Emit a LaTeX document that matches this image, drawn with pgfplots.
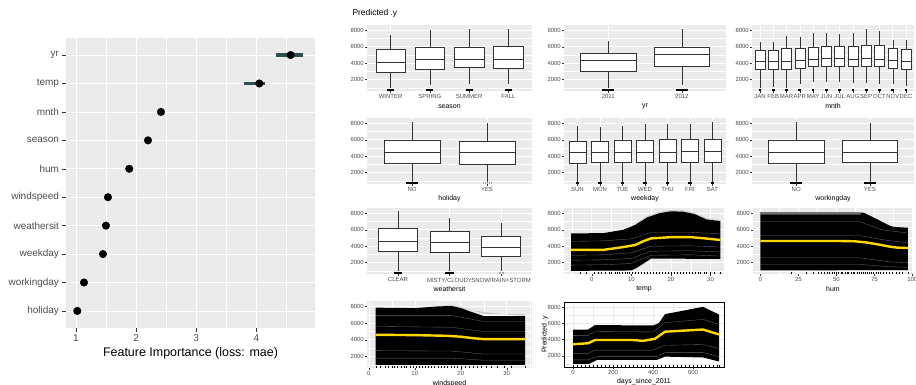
\documentclass[border=0pt]{standalone}
\usepackage{fontspec}
\setmainfont{Liberation Sans}
\usepackage{pgfplots}
\pgfplotsset{compat=1.18}
\definecolor{ggbg}{HTML}{EBEBEB}
\definecolor{ggtick}{HTML}{4D4D4D}
\definecolor{ggaxis}{HTML}{333333}
\definecolor{dslate}{HTML}{2F4F4F}
\definecolor{pdyellow}{HTML}{FFD700}
\pgfplotsset{
  gg/.style={scale only axis, anchor=south west,
    axis background/.style={fill=ggbg}, axis line style={draw=none},
    tick align=outside, major tick length=2bp, minor tick length=0pt,
    tick style={color=ggaxis, line width=0.4pt},
    xtick pos=left, ytick pos=left, grid=both,
    major grid style={white, line width=0.6pt},
    minor grid style={white, line width=0.3pt},
    tick label style={font=\fontsize{6}{7}\selectfont, color=ggtick},
    label style={font=\fontsize{7}{8}\selectfont},
    xlabel style={at={(axis description cs:0.5,-0.23)}, anchor=center},
    /pgf/number format/assume math mode=true, /pgf/number format/1000 sep={},
    ymin=620, ymax=8650, ytick={2000,4000,6000,8000}, minor ytick={1000,3000,5000,7000},
    yticklabel style={inner sep=1bp}, xticklabel style={inner sep=1.5bp}},
  bxs/.style={ggaxis, line width=0.5pt},
  rug/.style={black, line width=2.6bp},
  crug/.style={only marks, mark=|, mark size=1.2bp, mark options={black, line width=0.3pt}},
  band/.style={fill=black, draw=none},
  edge/.style={fill=gray!55, draw=none, opacity=0.6},
  streak/.style={gray!70, line width=0.35pt, opacity=0.6},
  pd/.style={pdyellow, line width=2.4bp},
}
% \bxp{left}{centre}{right}{lower whisker}{lower quartile}{median}{upper quartile}{upper whisker}
\newcommand{\bxp}[8]{%
  \addplot[bxs] coordinates {(#2,#4)(#2,#5)};
  \addplot[bxs] coordinates {(#2,#7)(#2,#8)};
  \addplot[bxs, fill=white] coordinates {(#1,#5)(#3,#5)(#3,#7)(#1,#7)} -- cycle;
  \addplot[bxs] coordinates {(#1,#6)(#3,#6)};
}
\begin{document}
\begin{tikzpicture}
\path[use as bounding box] (0,0) rectangle (916bp,385bp);
% ---------------- Left: feature importance ----------------
\begin{axis}[scale only axis, anchor=south west, at={(66bp,57bp)}, width=249bp, height=290bp,
  axis background/.style={fill=ggbg}, axis line style={draw=none},
  xmin=0.834, xmax=4.977, ymin=0.4, ymax=10.6,
  xtick={1,2,3,4}, minor xtick={1.5,2.5,3.5,4.5},
  ytick={1,...,10}, yticklabels={holiday,workingday,weekday,weathersit,windspeed,hum,season,mnth,temp,yr},
  grid=both, major grid style={white,line width=0.8pt}, minor grid style={white,line width=0.4pt},
  tick align=outside, major tick length=3.5bp, minor tick length=0pt,
  tick style={color=ggaxis, line width=0.5pt}, xtick pos=left, ytick pos=left,
  tick label style={font=\fontsize{10}{12}\selectfont, color=ggtick},
  xlabel={Feature Importance (loss: mae)},
  xlabel style={font=\fontsize{12.5}{14}\selectfont, at={(axis description cs:0.5,-0.086)}, anchor=center},
  /pgf/number format/assume math mode=true]
\addplot[dslate, line width=3.5bp] coordinates {(4.327,10)(4.771,10)};
\addplot[dslate, line width=3.5bp] coordinates {(3.795,9)(4.150,9)};
\addplot[only marks, mark=*, mark size=3.8bp, black] coordinates {(4.571,10)(4.05,9)(2.414,8)(2.198,7)(1.887,6)(1.532,5)(1.499,4)(1.449,3)(1.133,2)(1.022,1)};
\end{axis}
\node[anchor=west, font=\fontsize{8.5}{10}\selectfont] at (349bp,371.5bp) {Predicted .y};
% ---------------- Row 1 ----------------
\begin{axis}[gg, at={(367bp,294bp)}, width=165bp, height=66bp, xmin=0.4, xmax=4.6, xtick={1,2,3,4},
  xticklabels={WINTER,SPRING,SUMMER,FALL}, xlabel={season}]
\bxp{0.625}{1}{1.375}{1000}{2920}{4120}{5680}{7400}
\bxp{1.625}{2}{2.375}{1320}{3320}{4520}{5960}{8000}
\bxp{2.625}{3}{3.375}{1440}{3520}{4520}{5960}{8200}
\bxp{3.625}{4}{4.375}{1440}{3360}{4520}{6080}{8120}
\addplot[rug] coordinates {(0.91,760)(1.09,760)};
\addplot[rug] coordinates {(1.91,760)(2.09,760)};
\addplot[rug] coordinates {(2.91,760)(3.09,760)};
\addplot[rug] coordinates {(3.91,760)(4.09,760)};
\end{axis}
\begin{axis}[gg, at={(564bp,294bp)}, width=162bp, height=66bp, xmin=0.4, xmax=2.6, xtick={1,2},
  xticklabels={2011,2012}, xlabel={yr}]
\bxp{0.625}{1}{1.375}{950}{3000}{4320}{5200}{6720}
\bxp{1.625}{2}{2.375}{1320}{3640}{5040}{6000}{8200}
\addplot[rug] coordinates {(0.92,760)(1.08,760)};
\addplot[rug] coordinates {(1.92,760)(2.08,760)};
\end{axis}
\begin{axis}[gg, at={(752bp,294bp)}, width=162bp, height=66bp, xmin=0.4, xmax=12.6, xtick={1,2,3,4,5,6,7,8,9,10,11,12},
  xticklabels={JAN,FEB,MAR,APR,MAY,JUN,JUL,AUG,SEP,OCT,NOV,DEC}, xlabel={mnth}]
\bxp{0.625}{1}{1.375}{1040}{3280}{4200}{5600}{6640}
\bxp{1.625}{2}{2.375}{1120}{3280}{4200}{5600}{6640}
\bxp{2.625}{3}{3.375}{1040}{3280}{4200}{5880}{7280}
\bxp{3.625}{4}{4.375}{1440}{3400}{4320}{5800}{7200}
\bxp{4.625}{5}{5.375}{1720}{3600}{4520}{5920}{7640}
\bxp{5.625}{6}{6.375}{1720}{3680}{4640}{6040}{7720}
\bxp{6.625}{7}{7.375}{1720}{3680}{4640}{6040}{7520}
\bxp{7.625}{8}{8.375}{1600}{3600}{4520}{6040}{7720}
\bxp{8.625}{9}{9.375}{1600}{3680}{4640}{6200}{8200}
\bxp{9.625}{10}{10.375}{1440}{3600}{4520}{6200}{7920}
\bxp{10.625}{11}{11.375}{1440}{3400}{4320}{5800}{6800}
\bxp{11.625}{12}{12.375}{1200}{3280}{4200}{5720}{6800}
\addplot[rug] coordinates {(0.9,760)(1.1,760)};
\addplot[rug] coordinates {(1.9,760)(2.1,760)};
\addplot[rug] coordinates {(2.9,760)(3.1,760)};
\addplot[rug] coordinates {(3.9,760)(4.1,760)};
\addplot[rug] coordinates {(4.9,760)(5.1,760)};
\addplot[rug] coordinates {(5.9,760)(6.1,760)};
\addplot[rug] coordinates {(6.9,760)(7.1,760)};
\addplot[rug] coordinates {(7.9,760)(8.1,760)};
\addplot[rug] coordinates {(8.9,760)(9.1,760)};
\addplot[rug] coordinates {(9.9,760)(10.1,760)};
\addplot[rug] coordinates {(10.9,760)(11.1,760)};
\addplot[rug] coordinates {(11.9,760)(12.1,760)};
\end{axis}
% ---------------- Row 2 ----------------
\begin{axis}[gg, at={(367bp,201bp)}, width=165bp, height=66bp, xmin=0.4, xmax=2.6, xtick={1,2},
  xticklabels={NO,YES}, xlabel={holiday}]
\bxp{0.625}{1}{1.375}{850}{3200}{4520}{5920}{8120}
\bxp{1.625}{2}{2.375}{850}{3040}{4480}{5880}{8000}
\addplot[rug] coordinates {(0.92,760)(1.08,760)};
\addplot[crug, mark options={gray!70}] coordinates {(1.95,760)(1.98,760)(2.0,760)(2.03,760)(2.06,760)};
\end{axis}
\begin{axis}[gg, at={(564bp,201bp)}, width=162bp, height=66bp, xmin=0.4, xmax=7.6, xtick={1,2,3,4,5,6,7},
  xticklabels={SUN,MON,TUE,WED,THU,FRI,SAT}, xlabel={weekday}]
\bxp{0.625}{1}{1.375}{900}{3200}{4520}{5800}{7720}
\bxp{1.625}{2}{2.375}{900}{3320}{4440}{5800}{7600}
\bxp{2.625}{3}{3.375}{900}{3320}{4520}{5920}{7720}
\bxp{3.625}{4}{4.375}{900}{3320}{4520}{5920}{7920}
\bxp{4.625}{5}{5.375}{900}{3320}{4520}{6040}{7920}
\bxp{5.625}{6}{6.375}{900}{3320}{4600}{6040}{7920}
\bxp{6.625}{7}{7.375}{900}{3320}{4640}{6040}{8120}
\addplot[rug] coordinates {(0.93,760)(1.07,760)};
\addplot[rug] coordinates {(1.93,760)(2.07,760)};
\addplot[rug] coordinates {(2.93,760)(3.07,760)};
\addplot[rug] coordinates {(3.93,760)(4.07,760)};
\addplot[rug] coordinates {(4.93,760)(5.07,760)};
\addplot[rug] coordinates {(5.93,760)(6.07,760)};
\addplot[rug] coordinates {(6.93,760)(7.07,760)};
\end{axis}
\begin{axis}[gg, at={(752bp,201bp)}, width=162bp, height=66bp, xmin=0.4, xmax=2.6, xtick={1,2},
  xticklabels={NO,YES}, xlabel={workingday}]
\bxp{0.625}{1}{1.375}{850}{3200}{4520}{5920}{8120}
\bxp{1.625}{2}{2.375}{850}{3280}{4520}{5920}{8000}
\addplot[rug] coordinates {(0.92,760)(1.08,760)};
\addplot[rug] coordinates {(1.92,760)(2.08,760)};
\end{axis}
% ---------------- Row 3 ----------------
\begin{axis}[gg, at={(367bp,111bp)}, width=165bp, height=66bp, xmin=0.4, xmax=3.6, xtick={1,2,3},
  xticklabels={CLEAR,MISTY/CLOUDY,SNOW/RAIN+STORM}, xlabel={weathersit}]
\bxp{0.625}{1}{1.375}{1000}{3420}{4640}{6140}{8280}
\bxp{1.625}{2}{2.375}{1000}{3220}{4440}{5770}{7390}
\bxp{2.625}{3}{3.375}{1000}{2820}{3830}{5250}{6780}
\addplot[rug] coordinates {(0.92,760)(1.08,760)};
\addplot[rug] coordinates {(1.92,760)(2.08,760)};
\addplot[crug, mark options={gray!70}] coordinates {(2.96,760)(2.99,760)(3.02,760)(3.05,760)};
\end{axis}
\begin{axis}[gg, at={(564bp,111bp)}, width=160bp, height=66bp, xmin=-7, xmax=33.4,
  xtick={0,10,20,30}, minor xtick={-5,5,15,25}, xlabel={temp}]
\addplot[edge] coordinates {(11,6700)(14,7650)(17,8150)(20,8400)(23,8350)(26,8050)(29,7400)(32.5,7200)(32.5,6900)(11,6500)} -- cycle;
\addplot[band] coordinates {(-5.2,5550)(3,5600)(8,6000)(11,6600)(14,7500)(17,8000)(20,8250)(23,8200)(26,7900)(29,7250)(32.5,7050)
  (32.5,2450)(15,2500)(11.5,1400)(10,1050)(-5.2,1000)} -- cycle;
\addplot[streak] coordinates {(-5.2,4600)(3,4650)(10,4900)(15,5700)(25,5700)(32.5,5500)};
\addplot[streak] coordinates {(-5.2,2300)(3,2350)(10,2500)(15,3400)(25,3450)(32.5,3300)};
\addplot[streak] coordinates {(-5.2,1700)(3,1750)(10,1900)(15,2900)(25,2950)(32.5,2800)};
\addplot[streak] coordinates {(-5.2,2900)(3,2950)(10,3200)(15,4000)(25,4050)(32.5,3900)};
\addplot[pd] coordinates {(-5.2,3550)(3,3560)(8,3900)(11,4150)(13,4600)(15,4950)(20,5100)(25,5100)(28,4980)(32.5,4760)};
\addplot[crug] coordinates {(-3,760)(-1.5,760)(0.5,760)(1.5,760)(2.5,760)(3.5,760)(4.5,760)(5,760)(5.8,760)(6.5,760)(7,760)(7.8,760)(8.5,760)(9,760)(9.5,760)(10.2,760)(11,760)(11.8,760)(12.5,760)(13.2,760)(14,760)(14.8,760)(15.5,760)(16.3,760)(17,760)(17.8,760)(18.5,760)(19.2,760)(20,760)(20.8,760)(21.5,760)(22.3,760)(23,760)(23.8,760)(24.5,760)(25.3,760)(26,760)(26.8,760)(27.5,760)(28.3,760)(29,760)(30,760)(31,760)(32.5,760)};
\end{axis}
\begin{axis}[gg, at={(753bp,111bp)}, width=160bp, height=66bp, xmin=-4.8, xmax=100.4,
  xtick={0,25,50,75,100}, minor xtick={12.5,37.5,62.5,87.5}, xlabel={hum}]
\addplot[band] coordinates {(0,8150)(60,8150)(68,8080)(75,7450)(85,6500)(88,6350)(97,6250)(97,1100)(0,1050)} -- cycle;
\addplot[edge] coordinates {(0,8150)(60,8150)(66,8100)(66,7850)(0,7850)} -- cycle;
\addplot[streak] coordinates {(0,5300)(65,5300)(80,4800)(97,4400)};
\addplot[streak] coordinates {(0,2600)(65,2600)(85,2100)(97,2000)};
\addplot[streak] coordinates {(0,7000)(65,7000)(80,6000)(97,5600)};
\addplot[streak] coordinates {(0,1800)(65,1800)(85,1500)(97,1450)};
\addplot[pd] coordinates {(0,4640)(50,4640)(62,4600)(70,4450)(78,4200)(85,3950)(90,3830)(97,3780)};
\addplot[crug] coordinates {(20,760)(30,760)(35,760)(38,760)(40,760)(42,760)(44,760)(45.5,760)(47,760)(48.5,760)(50,760)(51.5,760)(53,760)(54,760)(55.5,760)(57,760)(58,760)(59.5,760)(61,760)(62,760)(63.5,760)(65,760)(66,760)(67.5,760)(69,760)(70,760)(71.5,760)(73,760)(74.5,760)(76,760)(77.5,760)(79,760)(81,760)(83,760)(85,760)(87,760)(89,760)(91,760)(93,760)(97,760)};
\end{axis}
% ---------------- Row 4 ----------------
\begin{axis}[gg, at={(367bp,17bp)}, width=165bp, height=67bp, xmin=-0.4, xmax=35.5,
  xtick={0,10,20,30}, minor xtick={5,15,25,35}, xlabel={windspeed}]
\addplot[edge] coordinates {(15,8050)(18,8150)(20,7950)(22,7600)(25,7100)(34,7100)(34,6800)(15,7950)} -- cycle;
\addplot[band] coordinates {(1.5,7850)(10,7800)(15,8000)(18,8050)(20,7800)(22,7400)(25,6850)(34,6850)(34,1000)(1.5,1000)} -- cycle;
\addplot[streak] coordinates {(1.5,5600)(18,5500)(25,5000)(34,5000)};
\addplot[streak] coordinates {(1.5,2700)(18,2650)(25,2300)(34,2300)};
\addplot[streak] coordinates {(1.5,6900)(18,6900)(25,6200)(34,6200)};
\addplot[streak] coordinates {(1.5,1800)(18,1800)(25,1550)(34,1550)};
\addplot[pd] coordinates {(1.5,4600)(10,4560)(17,4480)(20,4370)(22.5,4200)(25,4080)(34,4080)};
\addplot[crug] coordinates {(1.5,760)(2.5,760)(3.5,760)(4.2,760)(5,760)(5.6,760)(6.2,760)(7,760)(7.6,760)(8.2,760)(9,760)(9.6,760)(10.3,760)(11,760)(11.6,760)(12.3,760)(13,760)(13.6,760)(14.3,760)(15,760)(15.7,760)(16.4,760)(17,760)(17.8,760)(18.5,760)(19.3,760)(20,760)(20.9,760)(21.8,760)(22.7,760)(23.6,760)(24.5,760)(25.5,760)(26.7,760)(28,760)(29.5,760)(31,760)(34,760)};
\end{axis}
\begin{axis}[gg, at={(564bp,18bp)}, width=160bp, height=65bp, xmin=-45, xmax=755,
  xtick={0,200,400,600}, minor xtick={100,300,500,700}, xlabel={days\_since\_2011},
  axis background/.style={fill=white}, axis line style={draw=black, line width=0.6pt},
  major grid style={ggbg, line width=0.6pt}, minor grid style={ggbg, line width=0.3pt},
  ylabel={Predicted .y}, ylabel style={at={(axis description cs:-0.12,0.5)}, anchor=center}]
\addplot[band] coordinates {(0,5250)(75,5250)(110,5800)(400,5750)(430,6050)(460,7150)(650,8050)(730,7100)
  (730,1300)(650,1800)(460,1900)(420,1500)(120,1500)(80,1000)(0,1000)} -- cycle;
\addplot[streak] coordinates {(0,2300)(75,2300)(110,2700)(400,2700)(460,3300)(650,3400)(730,2900)};
\addplot[streak] coordinates {(0,4500)(75,4500)(110,5000)(400,4950)(460,6100)(650,6500)(730,5900)};
\addplot[streak] coordinates {(0,1500)(75,1500)(120,1900)(420,1900)(460,2400)(650,2400)(730,1900)};
\addplot[pd] coordinates {(0,3430)(75,3550)(110,3950)(300,3950)(350,3850)(410,4100)(460,4980)(650,5250)(730,4640)};
\addplot[crug] coordinates {(0,760)(20,760)(40,760)(60,760)(80,760)(100,760)(120,760)(140,760)(160,760)(180,760)(200,760)(220,760)(240,760)(260,760)(280,760)(300,760)(320,760)(340,760)(360,760)(380,760)(400,760)(420,760)(440,760)(460,760)(480,760)(500,760)(520,760)(540,760)(560,760)(580,760)(600,760)(620,760)(640,760)(660,760)(680,760)(700,760)(720,760)(730,760)};
\end{axis}
\end{tikzpicture}
\end{document}
